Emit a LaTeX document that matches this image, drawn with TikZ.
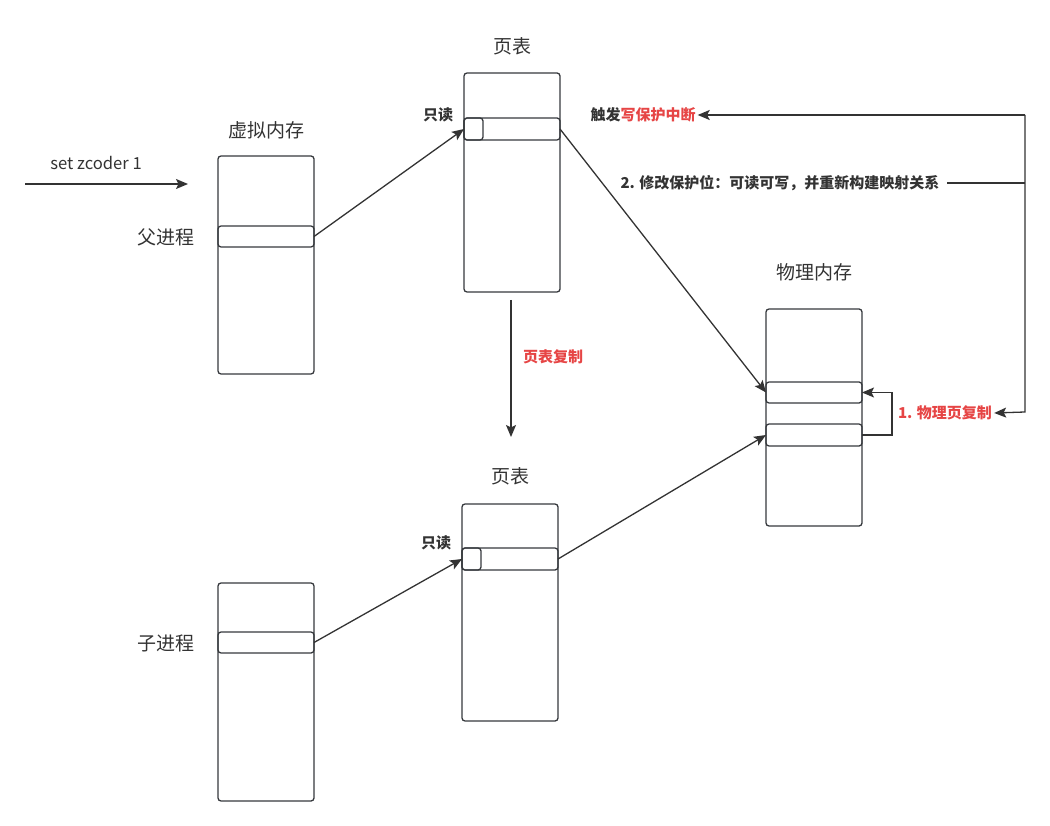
\documentclass[tikz,border=0pt]{standalone}
\usepackage{fontspec}
\setmainfont{Noto Sans CJK SC}
\usetikzlibrary{arrows.meta}
\definecolor{boxline}{HTML}{36393D}
\definecolor{arrowc}{HTML}{333333}
\definecolor{txt}{HTML}{333333}
\definecolor{redt}{HTML}{E64545}
\tikzset{
  mem/.style={draw=boxline, line width=1.3pt, rounded corners=3pt, inner sep=0pt, outer sep=0pt, minimum width=96pt},
  arr/.style={draw=arrowc, line width=1.3pt, -{Stealth[length=12pt,width=10pt,inset=2.5pt]}},
  ln/.style={draw=arrowc, line width=1.3pt},
  big/.style={text=txt, font=\fontsize{19}{22}\selectfont, inner sep=0pt},
  small/.style={text=txt, font=\fontsize{15}{18}\selectfont\bfseries, inner sep=0pt},
  redl/.style={text=redt, font=\fontsize{15}{18}\selectfont\bfseries, inner sep=0pt},
}
\begin{document}
\begin{tikzpicture}[x=1pt,y=-1pt]
\useasboundingbox (0,0) rectangle (1050,826);
% parent virtual memory
\node[mem, minimum height=218pt] (pv) at (266,265) {};
\node[mem, minimum height=21pt] (pvr) at (266,236.5) {};
% child virtual memory
\node[mem, minimum height=218pt] (cv) at (266,692) {};
\node[mem, minimum height=21pt] (cvr) at (266,642.5) {};
% page table 1
\node[mem, minimum height=219pt] (pt1) at (512,182.5) {};
\node[mem, minimum height=22pt] (pt1r) at (512,129) {};
\node[mem, minimum height=22pt, minimum width=19pt] (pt1s) at (473.5,129) {};
% page table 2
\node[mem, minimum height=217pt] (pt2) at (510,612.5) {};
\node[mem, minimum height=22pt] (pt2r) at (510,559) {};
\node[mem, minimum height=22pt, minimum width=19pt] (pt2s) at (471.5,559) {};
% physical memory
\node[mem, minimum height=217pt] (pm) at (814,417.5) {};
\node[mem, minimum height=21pt] (pmr1) at (814,392.5) {};
\node[mem, minimum height=22pt] (pmr2) at (814,435) {};
% labels
\node[big] (lvm) at (266,130) {虚拟内存};
\node[big] (lpt1) at (512,46) {页表};
\node[big] (lpt2) at (510,476) {页表};
\node[big] (lpm) at (814,272) {物理内存};
\node[big] (lpar) at (166,237) {父进程};
\node[big] (lchi) at (166,643) {子进程};
\node[small] (ro1) at (438,115) {只读};
\node[small] (ro2) at (436,543) {只读};
\node[text=txt, font=\fontsize{16.6}{19}\selectfont, inner sep=0pt] (setz) at (96,163) {set zcoder 1};
\node[small] (trig) at (643,115) {触发\textcolor{redt}{写保护中断}};
\node[small] (modl) at (780,183) {2. 修改保护位：可读可写，并重新构建映射关系};
\node[redl] (cpy) at (945,413) {1. 物理页复制};
\node[redl] (ptc) at (553,357) {页表复制};
% coordinates
\coordinate (s1) at (25,184);
\coordinate (s2) at (188,184);
\coordinate (c1) at (511,300);
\coordinate (c2) at (511,437);
\coordinate (r1) at (1025,115);
\coordinate (r2) at (1025,412);
\coordinate (m1) at (947,183);
% connectors
\draw[arr] (s1) -- (s2);
\draw[arr] (pvr.east) -- (pt1s.west);
\draw[arr] (pt1r.east) -- (pmr1.west);
\draw[arr] (cvr.east) -- (pt2s.west);
\draw[arr] (pt2r.east) -- (pmr2.west);
\draw[arr] (c1) -- (c2);
\draw[arr] (pmr2.east) -- ++(30,0) |- (pmr1.east);
\draw[arr] (r1) -- ([xshift=2pt]trig.east);
\draw[arr] (r1) -- (r2) -- ([xshift=2pt]cpy.east);
\draw[ln] (m1) -- (m1 -| r1);
\end{tikzpicture}
\end{document}
